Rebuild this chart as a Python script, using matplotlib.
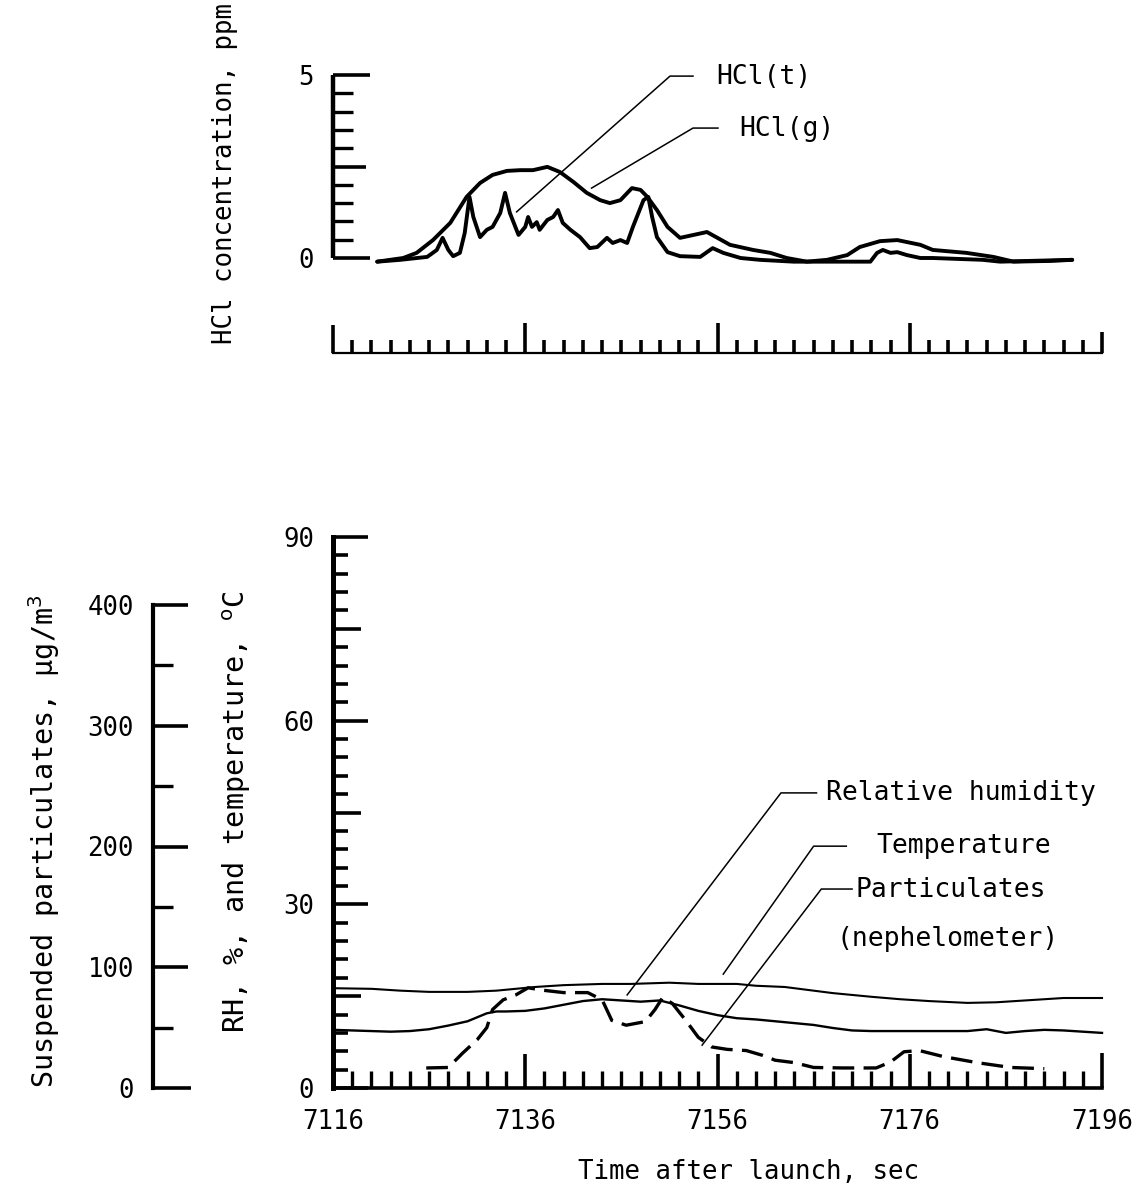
import matplotlib
matplotlib.use("Agg")
import matplotlib.pyplot as plt
from matplotlib.ticker import MultipleLocator, FixedLocator

plt.rcParams['font.family'] = ['DejaVu Sans Mono', 'DejaVu Sans']
plt.rcParams['mathtext.fontset'] = 'dejavusans'

# ---------------- data ----------------
time_ticks = [7116, 7136, 7156, 7176, 7196]
time_tick_labels = ['7116', '7136', '7156', '7176', '7196']

hcl_t_time = [7120.6, 7123.0, 7125.8, 7126.8, 7127.4, 7128.0, 7128.5, 7129.2, 7129.7, 7130.2,
              7130.6, 7131.3, 7132.0, 7132.6, 7133.4, 7133.9, 7134.4, 7135.3, 7136.0, 7136.3,
              7136.7, 7137.2, 7137.5, 7138.3, 7138.9, 7139.4, 7139.9, 7140.7, 7141.7, 7142.7,
              7143.5, 7144.5, 7145.1, 7145.9, 7146.6, 7147.2, 7148.3, 7148.8, 7149.2, 7149.7,
              7150.8, 7152.1, 7154.2, 7155.5, 7156.6, 7158.4, 7160.4, 7163.9, 7170.1, 7171.9,
              7172.6, 7173.2, 7174.0, 7174.7, 7175.7, 7177.1, 7178.4, 7183.6, 7185.4, 7192.9]
hcl_t = [-0.10, -0.05, 0.03, 0.22, 0.55, 0.22, 0.05, 0.14, 0.68, 1.67,
         1.12, 0.57, 0.77, 0.85, 1.23, 1.78, 1.23, 0.63, 0.85, 1.12,
         0.85, 0.98, 0.77, 1.04, 1.12, 1.31, 0.96, 0.77, 0.57, 0.27,
         0.30, 0.55, 0.41, 0.49, 0.41, 0.85, 1.58, 1.67, 1.12, 0.57,
         0.16, 0.05, 0.03, 0.27, 0.14, 0.00, -0.05, -0.10, -0.10, -0.10,
         0.14, 0.22, 0.14, 0.16, 0.08, 0.00, 0.00, -0.05, -0.10, -0.05]

hcl_g_time = [7120.6, 7123.3, 7124.7, 7126.4, 7128.2, 7129.9, 7131.3, 7132.6, 7134.1, 7135.5,
              7136.8, 7138.3, 7139.6, 7141.0, 7142.4, 7143.8, 7144.8, 7145.9, 7147.1, 7148.0,
              7148.7, 7149.7, 7150.8, 7152.1, 7153.5, 7154.9, 7156.0, 7157.3, 7159.7, 7161.5,
              7163.2, 7165.3, 7167.4, 7169.5, 7170.8, 7172.9, 7174.7, 7177.1, 7178.4, 7181.9,
              7184.7, 7186.8, 7190.6, 7192.9]
hcl_g = [-0.10, 0.00, 0.14, 0.49, 0.96, 1.67, 2.05, 2.27, 2.38, 2.40,
         2.40, 2.49, 2.35, 2.08, 1.78, 1.58, 1.50, 1.58, 1.91, 1.86,
         1.67, 1.31, 0.85, 0.55, 0.63, 0.71, 0.55, 0.36, 0.22, 0.14,
         0.00, -0.10, -0.05, 0.08, 0.30, 0.46, 0.49, 0.36, 0.22, 0.14,
         0.03, -0.10, -0.08, -0.05]

rh_time = [7116, 7118, 7120, 7122, 7124, 7126, 7128, 7130, 7132, 7133, 7134, 7136, 7138, 7140,
           7142, 7144, 7146, 7148, 7150, 7152, 7154, 7156, 7158, 7160, 7162, 7164, 7166, 7168,
           7170, 7172, 7174, 7176, 7178, 7180, 7182, 7184, 7186, 7188, 7190, 7192, 7194, 7196]
rh = [9.5, 9.4, 9.3, 9.2, 9.3, 9.6, 10.2, 10.9, 12.2, 12.5, 12.5, 12.6, 13.0, 13.6,
      14.2, 14.5, 14.3, 14.1, 14.3, 13.5, 12.6, 11.9, 11.4, 11.2, 10.9, 10.6, 10.3, 9.8,
      9.4, 9.3, 9.3, 9.3, 9.3, 9.3, 9.3, 9.6, 9.0, 9.3, 9.5, 9.4, 9.2, 9.0]

temp_time = [7116, 7120, 7123, 7126, 7130, 7133, 7137, 7140, 7144, 7147, 7151, 7154, 7158,
             7160, 7163, 7166, 7168, 7172, 7175, 7178, 7182, 7185, 7189, 7192, 7196]
temperature = [16.3, 16.2, 15.9, 15.7, 15.7, 15.9, 16.5, 16.8, 17.0, 17.0, 17.2, 17.0, 17.0,
               16.7, 16.5, 15.9, 15.5, 14.9, 14.5, 14.2, 13.9, 14.0, 14.4, 14.7, 14.7]

part_time = [7125.7, 7128.0, 7129.5, 7131.0, 7132.0, 7132.6, 7133.7, 7135.0, 7136.3, 7137.8,
             7140.0, 7142.5, 7144.0, 7145.0, 7146.5, 7148.5, 7149.5, 7150.3, 7151.3, 7152.7,
             7154.0, 7155.4, 7157.0, 7159.0, 7160.7, 7162.0, 7164.0, 7166.0, 7169.0, 7172.5,
             7174.0, 7175.4, 7177.0, 7179.5, 7183.0, 7186.5, 7190.0]
particulates = [16.6, 17, 29, 40, 50, 65, 73, 77, 83, 81,
                79, 79, 73, 56, 52, 55, 65, 75, 70, 56,
                42, 34, 32, 31, 27, 23, 21, 17, 16.6, 16.6,
                21.5, 30, 31, 26, 21, 17, 16]

# ---------------- layout ----------------
W, H = 1141, 1197
fig = plt.figure(figsize=(W / 100, H / 100), dpi=100)

def fx(px):
    return px / W

def fy(py):
    return 1 - py / H

x0, x1 = 333, 1102
ax_top = fig.add_axes([fx(x0), fy(258), fx(x1) - fx(x0), fy(75) - fy(258)])
ax_bar = fig.add_axes([fx(x0), fy(353), fx(x1) - fx(x0), 0.04])
ax_bot = fig.add_axes([fx(x0), fy(1088), fx(x1) - fx(x0), fy(537) - fy(1088)])
ax_par = fig.add_axes([fx(153), fy(1088), 0.05, fy(605) - fy(1088)])

PT = 0.72  # points per pixel
TICK_FS = 18.5
ANN_FS = 19

def set_lengths(axis, lengths, width):
    for t, L in zip(axis.get_major_ticks(), lengths):
        t.tick1line.set_markersize(L * PT)
        t.tick1line.set_markeredgewidth(width)

# ---------- top HCl panel ----------
ax_top.set_xlim(7116, 7196)
ax_top.set_ylim(0, 5)
for s in ['top', 'right', 'bottom']:
    ax_top.spines[s].set_visible(False)
ax_top.spines['left'].set_linewidth(3.2)
ax_top.spines['left'].set_capstyle('butt')
ax_top.set_xticks([])
ax_top.yaxis.set_major_locator(FixedLocator([0, 2.5, 5]))
ax_top.yaxis.set_minor_locator(MultipleLocator(0.5))
ax_top.set_yticklabels(['0', '', '5'])
ax_top.tick_params(axis='y', which='both', direction='in', pad=19 * PT, labelsize=TICK_FS)
ax_top.tick_params(axis='y', which='minor', length=20 * PT, width=2.4)
set_lengths(ax_top.yaxis, [37, 33, 37], 2.6)

ax_top.plot(hcl_g_time, hcl_g, color='black', lw=2.8, clip_on=False,
            solid_joinstyle='round', solid_capstyle='round')
ax_top.plot(hcl_t_time, hcl_t, color='black', lw=2.8, clip_on=False,
            solid_joinstyle='round', solid_capstyle='round')

# leaders and labels
ax_top.plot([7135.1, 7151.06, 7153.45], [1.26, 4.97, 4.97], color='black', lw=1.1, clip_on=False)
ax_top.text(7155.9, 4.95, 'HCl(t)', fontsize=ANN_FS, ha='left', va='center')
ax_top.plot([7142.9, 7153.45, 7156.05], [1.91, 3.55, 3.55], color='black', lw=1.1, clip_on=False)
ax_top.text(7158.3, 3.52, 'HCl(g)', fontsize=ANN_FS, ha='left', va='center')

# ---------- top tick bar ----------
ax_bar.set_xlim(7116, 7196)
ax_bar.patch.set_visible(False)
for s in ['top', 'right', 'left']:
    ax_bar.spines[s].set_visible(False)
ax_bar.spines['bottom'].set_linewidth(1.6)
ax_bar.set_yticks([])
ax_bar.xaxis.set_major_locator(FixedLocator(time_ticks))
ax_bar.xaxis.set_minor_locator(MultipleLocator(2))
ax_bar.tick_params(axis='x', which='both', direction='in', labelbottom=False)
ax_bar.tick_params(axis='x', which='minor', length=13 * PT, width=2.6)
set_lengths(ax_bar.xaxis, [28, 30, 30, 30, 21], 2.6)

# ---------- bottom panel ----------
ax_bot.set_xlim(7116, 7196)
ax_bot.set_ylim(0, 90)
for s in ['top', 'right']:
    ax_bot.spines[s].set_visible(False)
ax_bot.spines['left'].set_linewidth(3.6)
ax_bot.spines['bottom'].set_linewidth(2.6)
ax_bot.yaxis.set_major_locator(FixedLocator([0, 15, 30, 45, 60, 75, 90]))
ax_bot.yaxis.set_minor_locator(MultipleLocator(3))
ax_bot.set_yticklabels(['0', '', '30', '', '60', '', '90'])
ax_bot.xaxis.set_major_locator(FixedLocator(time_ticks))
ax_bot.xaxis.set_minor_locator(MultipleLocator(2))
ax_bot.set_xticklabels(time_tick_labels)
ax_bot.tick_params(axis='both', which='both', direction='in', labelsize=TICK_FS)
ax_bot.tick_params(axis='y', which='both', pad=19 * PT)
ax_bot.tick_params(axis='x', which='both', pad=21 * PT)
ax_bot.tick_params(axis='y', which='minor', length=15 * PT, width=2.6)
ax_bot.tick_params(axis='x', which='minor', length=17 * PT, width=2.4)
set_lengths(ax_bot.yaxis, [35, 28, 35, 28, 35, 28, 35], 2.6)
set_lengths(ax_bot.xaxis, [17, 34, 34, 34, 35], 2.6)

ax_bot.plot(temp_time, temperature, color='black', lw=1.5, clip_on=False)
ax_bot.plot(rh_time, rh, color='black', lw=1.7, clip_on=False)

# particulates on their own scale, aligned to the separate left axis
ax_pp = ax_bot.twinx()
ax_pp.set_xlim(7116, 7196)
bot_h = fy(537) - fy(1088)
par_h = fy(605) - fy(1088)
ax_pp.set_ylim(0, 400 * bot_h / par_h)
ax_pp.axis('off')
ax_pp.plot(part_time, particulates, color='black', lw=2.4,
           linestyle=(0, (6.5, 2.8)), clip_on=False)

# leaders and labels
ax_bot.plot([7146.6, 7162.6, 7166.3], [15.2, 48.2, 48.2], color='black', lw=1.1, clip_on=False)
ax_bot.text(7167.3, 48.2, 'Relative humidity', fontsize=ANN_FS, ha='left', va='center')
ax_bot.plot([7156.6, 7166.0, 7169.4], [18.6, 39.5, 39.5], color='black', lw=1.1, clip_on=False)
ax_bot.text(7172.5, 39.6, 'Temperature', fontsize=ANN_FS, ha='left', va='center')
ax_bot.plot([7154.4, 7166.8, 7170.0], [7.0, 32.5, 32.5], color='black', lw=1.1, clip_on=False)
ax_bot.text(7180.3, 32.4, 'Particulates', fontsize=ANN_FS, ha='center', va='center')
ax_bot.text(7179.9, 24.4, '(nephelometer)', fontsize=ANN_FS, ha='center', va='center')

# ---------- particulates axis ----------
ax_par.set_ylim(0, 400)
ax_par.patch.set_visible(False)
for s in ['top', 'right', 'bottom']:
    ax_par.spines[s].set_visible(False)
ax_par.spines['left'].set_linewidth(3.0)
ax_par.set_xticks([])
ax_par.yaxis.set_major_locator(FixedLocator([0, 100, 200, 300, 400]))
ax_par.yaxis.set_minor_locator(MultipleLocator(50))
ax_par.set_yticklabels(['0', '100', '200', '300', '400'])
ax_par.tick_params(axis='y', which='both', direction='in', pad=19 * PT, labelsize=TICK_FS)
ax_par.tick_params(axis='y', which='minor', length=20 * PT, width=2.4)
set_lengths(ax_par.yaxis, [38, 35, 35, 35, 35], 2.6)

# ---------- axis titles ----------
fig.text(fx(225), fy(174), 'HCl concentration, ppm', rotation=90, fontsize=18.5,
         ha='center', va='center')
fig.text(fx(44), fy(841), 'Suspended particulates, \u03bcg/m$^3$', rotation=90, fontsize=20.5,
         ha='center', va='center')
fig.text(fx(237), fy(812), 'RH, %, and temperature, $^{\\mathrm{o}}$C', rotation=90, fontsize=20.5,
         ha='center', va='center')
fig.text(fx(749), fy(1172), 'Time after launch, sec', fontsize=18.5, ha='center', va='center')

fig.savefig('out.png', dpi=100)
